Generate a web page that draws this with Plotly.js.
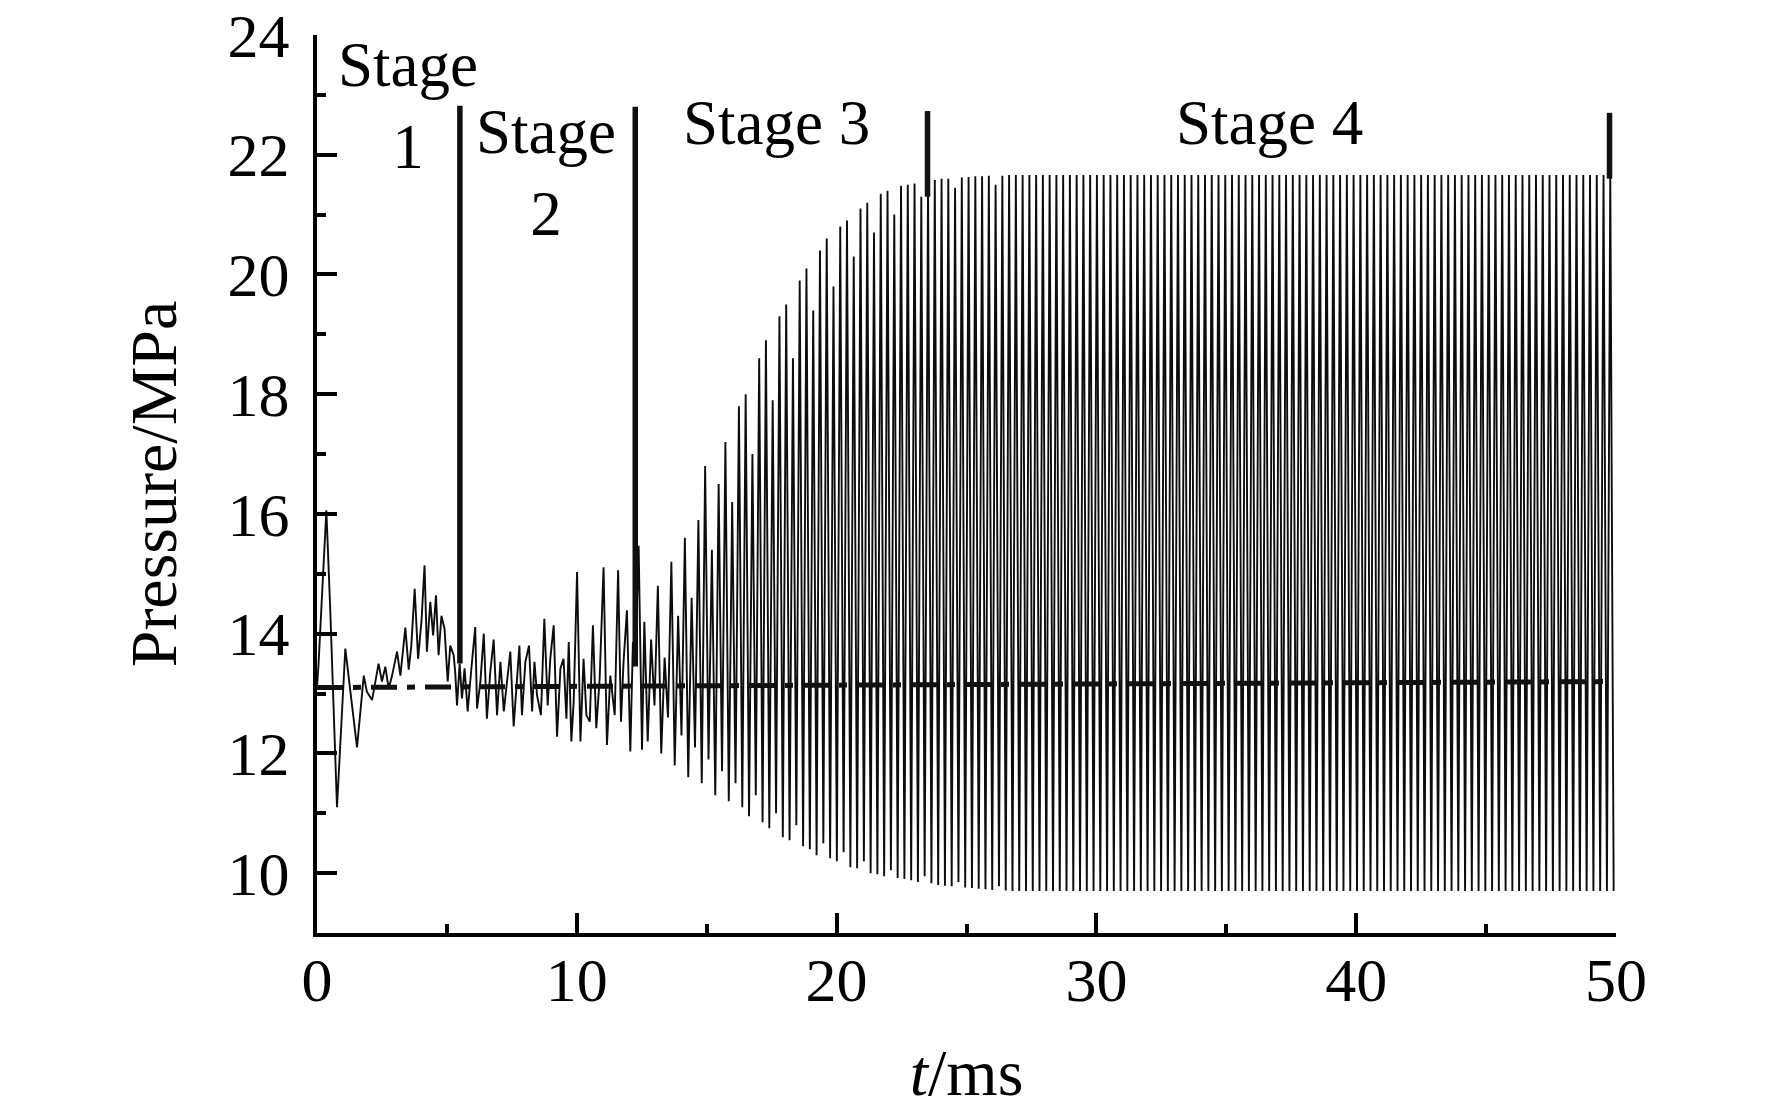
<!DOCTYPE html>
<html>
<head>
<meta charset="utf-8">
<script src="https://cdn.plot.ly/plotly-3.0.1.min.js"></script>
<style>
    html, body { margin: 0; padding: 0; background: #ffffff; }
    #chart { width: 1772px; height: 1118px; }
</style>
</head>
<body>
<div id="chart"></div>
<script>
// Pressure trace, 0 - 12.5 ms, read point by point (t in ms, p in MPa)
const earlyT = [
    0.00, 0.06, 0.36, 0.51, 0.77, 1.09, 1.54, 1.80, 1.92, 2.12, 2.37, 2.50, 2.63, 2.76, 2.89,
    3.08, 3.21, 3.40, 3.53, 3.63, 3.76, 3.89, 4.02, 4.14, 4.23, 4.36, 4.47, 4.58, 4.68, 4.79,
    4.91, 5.03, 5.13, 5.26, 5.32, 5.39, 5.49, 5.58, 5.68, 5.80, 5.93, 6.09, 6.16, 6.29, 6.42,
    6.54, 6.67, 6.80, 6.93, 7.06, 7.19, 7.31, 7.44, 7.57, 7.70, 7.79, 7.89, 8.02, 8.16, 8.28,
    8.37, 8.47, 8.62, 8.75, 8.88, 8.98, 9.11, 9.24, 9.37, 9.49, 9.60, 9.69, 9.79, 9.88, 10.01,
    10.14, 10.26, 10.37, 10.50, 10.62, 10.75, 10.88, 11.03, 11.16, 11.29, 11.46, 11.59, 11.70, 11.80, 11.93,
    12.06, 12.16, 12.25, 12.38, 12.51,
];
const earlyP = [
    13.10, 13.50, 16.06, 14.40, 11.10, 13.75, 12.10, 13.30, 13.03, 12.89, 13.50, 13.20, 13.45, 13.08, 13.30,
    13.70, 13.30, 14.10, 13.40, 13.80, 14.75, 13.58, 14.20, 15.14, 13.70, 14.53, 13.97, 14.64, 13.64, 14.30,
    14.08, 13.20, 13.80, 13.64, 13.36, 12.80, 13.50, 12.92, 13.42, 12.70, 13.36, 14.11, 12.75, 13.20, 14.00,
    12.58, 13.36, 13.90, 12.64, 13.53, 12.70, 13.20, 13.70, 12.45, 13.20, 13.80, 12.64, 13.53, 13.80, 12.70,
    13.53, 12.97, 12.64, 14.25, 12.80, 13.58, 14.14, 12.28, 13.42, 13.58, 12.58, 13.86, 12.20, 12.86, 15.03,
    12.20, 13.58, 12.64, 12.53, 14.14, 12.42, 13.25, 15.11, 12.14, 13.30, 12.64, 15.06, 12.53, 13.53, 14.39,
    12.03, 13.86, 13.47, 15.47, 12.06,
];

// From 12.6 ms on the trace is a steady oscillation: one peak and one trough per cycle
const cycleStart = 12.6;   // ms
const cyclePeriod = 0.26;  // ms
const stage3Hi = [
    14.2, 13.9, 14.8, 13.6, 15.2, 14.3, 15.6, 14.6, 15.9, 16.8,
    15.4, 16.5, 17.2, 16.2, 17.8, 18.0, 17.0, 18.6, 18.9, 17.9,
    19.3, 19.5, 18.6, 19.9, 20.1, 19.4, 20.4, 20.6, 19.8, 20.8,
    20.9, 20.3, 21.1, 21.2, 20.7, 21.35, 21.4, 21.0, 21.48, 21.5,
    21.52, 21.3, 21.55, 21.58, 21.6, 21.6, 21.45, 21.62, 21.63, 21.64,
    21.64, 21.65, 21.5, 21.65, 21.66, 21.66, 21.66, 21.66, 21.66, 21.66,
];
const stage3Lo = [
    12.2, 12.8, 12.0, 12.6, 11.8, 12.3, 11.6, 12.1, 11.5, 11.9,
    11.3, 11.7, 11.2, 11.5, 11.1, 10.95, 11.3, 10.85, 10.75, 11.0,
    10.6, 10.55, 10.8, 10.45, 10.4, 10.3, 10.5, 10.25, 10.2, 10.35,
    10.1, 10.08, 10.2, 10.0, 9.98, 9.95, 10.05, 9.92, 9.9, 9.88,
    9.85, 9.95, 9.83, 9.8, 9.79, 9.78, 9.85, 9.76, 9.75, 9.74,
    9.73, 9.72, 9.78, 9.71, 9.7, 9.7, 9.7, 9.7, 9.7, 9.7,
];
const stage4Hi = [
    21.66, 21.66, 21.66, 21.66, 21.66, 21.66, 21.66, 21.66, 21.66, 21.66, 21.66, 21.66,
    21.66, 21.66, 21.66, 21.66, 21.66, 21.66, 21.66, 21.66, 21.66, 21.66, 21.66, 21.66,
    21.66, 21.66, 21.66, 21.66, 21.66, 21.66, 21.66, 21.66, 21.66, 21.66, 21.66, 21.66,
    21.66, 21.66, 21.66, 21.66, 21.66, 21.66, 21.66, 21.66, 21.66, 21.66, 21.66, 21.66,
    21.66, 21.66, 21.66, 21.66, 21.66, 21.66, 21.66, 21.66, 21.66, 21.66, 21.66, 21.66,
    21.66, 21.66, 21.66, 21.66, 21.66, 21.66, 21.66, 21.66, 21.66, 21.66, 21.66, 21.66,
    21.66, 21.66, 21.66, 21.66, 21.66, 21.66, 21.66, 21.66, 21.66, 21.66, 21.66, 21.66,
];
const stage4Lo = [
    9.70, 9.70, 9.70, 9.70, 9.70, 9.70, 9.70, 9.70, 9.70, 9.70, 9.70, 9.70,
    9.70, 9.70, 9.70, 9.70, 9.70, 9.70, 9.70, 9.70, 9.70, 9.70, 9.70, 9.70,
    9.70, 9.70, 9.70, 9.70, 9.70, 9.70, 9.70, 9.70, 9.70, 9.70, 9.70, 9.70,
    9.70, 9.70, 9.70, 9.70, 9.70, 9.70, 9.70, 9.70, 9.70, 9.70, 9.70, 9.70,
    9.70, 9.70, 9.70, 9.70, 9.70, 9.70, 9.70, 9.70, 9.70, 9.70, 9.70, 9.70,
    9.70, 9.70, 9.70, 9.70, 9.70, 9.70, 9.70, 9.70, 9.70, 9.70, 9.70, 9.70,
    9.70, 9.70, 9.70, 9.70, 9.70, 9.70, 9.70, 9.70, 9.70, 9.70, 9.70, 9.70,
];

// mean pressure (dash-dot line)
const meanT = [0, 49.8];
const meanP = [13.1, 13.2];

// stage boundaries
const markerT = [5.5, 12.25, 23.5, 49.75];
const markerTop = [22.82, 22.8, 22.73, 22.7];
const markerBottom = [13.5, 13.45, 21.3, 21.6];

const stageLabels = ["Stage<br>1", "Stage<br>2", "Stage 3", "Stage 4"];
const stageX = [3.5, 8.83, 17.7, 36.66];
const stageY = [22.81, 21.69, 22.53, 22.53];

const SERIF = "\"Liberation Serif\", \"Times New Roman\", serif";


function buildTrace() {
    const t = earlyT.slice();
    const p = earlyP.slice();
    const hi = stage3Hi.concat(stage4Hi);
    const lo = stage3Lo.concat(stage4Lo);
    for (let i = 0; i < hi.length; i++) {
        const t0 = cycleStart + i * cyclePeriod;
        t.push(t0, t0 + cyclePeriod / 2);
        p.push(hi[i], lo[i]);
    }
    return { t, p };
}


const signal = buildTrace();
const traces = [
    {
        type: "scatter",
        mode: "lines",
        x: signal.t,
        y: signal.p,
        line: { color: "#0d0d0d", width: 1.9 },
        hoverinfo: "skip",
        showlegend: false,
    },
    {
        type: "scatter",
        mode: "lines",
        x: meanT,
        y: meanP,
        line: { color: "#111111", width: 5, dash: "26px,10px,8px,10px" },
        hoverinfo: "skip",
        showlegend: false,
    },
];

markerT.forEach((tm, index) => {
    traces.push({
        type: "scatter",
        mode: "lines",
        x: [tm, tm],
        y: [markerBottom[index], markerTop[index]],
        line: { color: "#111111", width: 5.5 },
        hoverinfo: "skip",
        showlegend: false,
    });
});

const annotations = stageLabels.map((label, index) => ({
    text: label,
    x: stageX[index],
    y: stageY[index],
    xref: "x",
    yref: "y",
    showarrow: false,
    xanchor: "center",
    yanchor: "middle",
    align: "center",
    font: { family: SERIF, size: 63, color: "#000000" },
}));

const axisCommon = {
    showline: true,
    linecolor: "#000000",
    linewidth: 4,
    showgrid: false,
    zeroline: false,
    ticks: "inside",
    ticklen: 20,
    tickwidth: 4,
    tickcolor: "#000000",
    tickfont: { family: SERIF, size: 62, color: "#000000" },
};

const layout = {
    width: 1772,
    height: 1118,
    margin: { l: 317, r: 156, t: 35, b: 185 },
    paper_bgcolor: "#ffffff",
    plot_bgcolor: "#ffffff",
    showlegend: false,
    font: { family: SERIF, color: "#000000" },
    xaxis: {
        ...axisCommon,
        range: [0, 50],
        tick0: 0,
        dtick: 10,
        minor: { dtick: 5, ticks: "inside", ticklen: 9, tickwidth: 4, tickcolor: "#000000" },
        ticklabelstandoff: -10,
        title: {
            text: "<i>t</i>/ms",
            font: { family: SERIF, size: 66, color: "#000000" },
            standoff: 36,
        },
    },
    yaxis: {
        ...axisCommon,
        range: [9, 24],
        tick0: 10,
        dtick: 2,
        minor: { dtick: 1, ticks: "inside", ticklen: 9, tickwidth: 4, tickcolor: "#000000" },
        ticklabelstandoff: 11,
        title: {
            text: "Pressure/MPa",
            font: { family: SERIF, size: 66, color: "#000000" },
            standoff: 30,
        },
    },
    annotations,
};

Plotly.newPlot("chart", traces, layout, { staticPlot: true, displayModeBar: false });
</script>
</body>
</html>
